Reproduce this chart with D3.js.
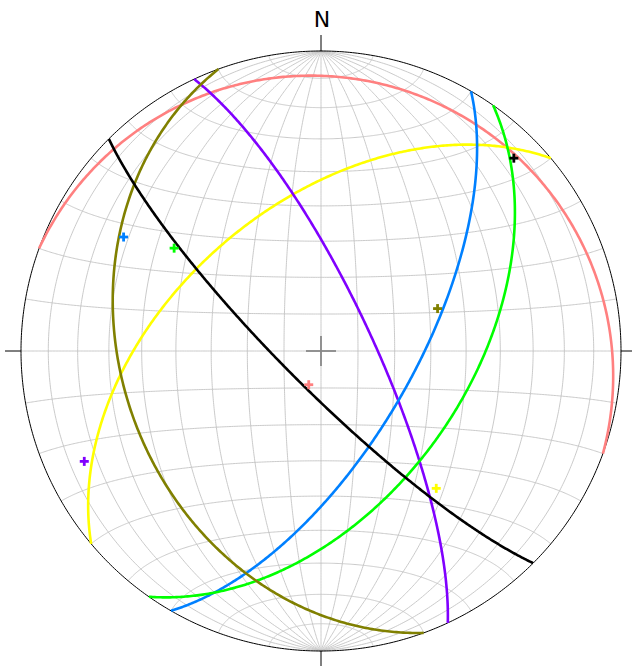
<!DOCTYPE html>
<html>
<head>
<meta charset="utf-8">
<script src="https://cdn.jsdelivr.net/npm/d3@7"></script>
<style>
  html, body { margin: 0; padding: 0; background: #fff; }
  svg { display: block; }
</style>
</head>
<body>
<svg id="chart" width="632" height="666"></svg>
<script>
// ---- data (right-hand-rule strike / dip of each plane) ----
const planeColors = ["#ff8080", "#ffff00", "#8000ff", "#0080ff", "#00ff00", "#808000", "#000000"];
const strikes = [290, 230, 335, 30, 35, 160, 135];
const dips    = [9.7, 50,  76,  65, 50, 34,  80];
// grid (degrees) and tick labels
const gridLons = [-80, -70, -60, -50, -40, -30, -20, -10, 0, 10, 20, 30, 40, 50, 60, 70, 80];
const gridLats = [-80, -70, -60, -50, -40, -30, -20, -10, 0, 10, 20, 30, 40, 50, 60, 70, 80];
const tickAzimuths = [0, 90, 180, 270];
const tickLabels = ["N", "", "", ""];

// ---- layout ----
const W = 632, H = 666;
const cx = 321, cy = 351, R = 300;
const svg = d3.select("#chart");
svg.append("rect").attr("width", W).attr("height", H).attr("fill", "#fff");

const proj = d3.geoAzimuthalEqualArea()
  .rotate([0, 0])
  .scale(R / Math.SQRT2)
  .translate([cx, cy]);

const rad = Math.PI / 180, deg = 180 / Math.PI;
const line = d3.line().curve(d3.curveLinear);

// vector (E, N, Down) -> [lon, lat]
function toLonLat(E, N, D) {
  const n = Math.sqrt(E * E + N * N + D * D);
  E /= n; N /= n; D /= n;
  return [Math.atan2(E, D) * deg, Math.asin(Math.max(-1, Math.min(1, N))) * deg];
}

// ---- grid ----
const gridG = svg.append("g").attr("fill", "none").attr("stroke", "#c4c4c4").attr("stroke-width", 0.9);
gridLons.forEach(lon => {
  const pts = d3.range(-90, 90.01, 0.5).map(lat => proj([lon, lat]));
  gridG.append("path").attr("d", line(pts));
});
gridLats.forEach(lat => {
  const pts = d3.range(-90, 90.01, 0.5).map(lon => proj([lon, lat]));
  gridG.append("path").attr("d", line(pts));
});

// ---- center cross ----
const c0 = proj([0, 0]);
svg.append("line").attr("x1", c0[0] - 15).attr("x2", c0[0] + 15).attr("y1", c0[1]).attr("y2", c0[1])
  .attr("stroke", "#888").attr("stroke-width", 1.8);
svg.append("line").attr("x1", c0[0]).attr("x2", c0[0]).attr("y1", c0[1] - 15).attr("y2", c0[1] + 15)
  .attr("stroke", "#888").attr("stroke-width", 1.8);

// ---- primitive circle ----
const prim = d3.range(0, 360.01, 0.5).map(a => {
  const ll = toLonLat(Math.sin(a * rad), Math.cos(a * rad), 0);
  return proj(ll);
});
svg.append("path").attr("d", line(prim) + "Z").attr("fill", "none").attr("stroke", "#000").attr("stroke-width", 1);

// ---- ticks + label ----
tickAzimuths.forEach((az, i) => {
  const ux = Math.sin(az * rad), uy = -Math.cos(az * rad);
  svg.append("line")
    .attr("x1", cx + ux * R).attr("y1", cy + uy * R)
    .attr("x2", cx + ux * (R + 16)).attr("y2", cy + uy * (R + 16))
    .attr("stroke", "#000").attr("stroke-width", 1);
  if (tickLabels[i]) {
    svg.append("text")
      .attr("x", cx + ux * (R + 25) + 1).attr("y", cy + uy * (R + 25) + 1)
      .attr("text-anchor", "middle")
      .attr("font-family", "DejaVu Sans, sans-serif")
      .attr("font-size", 22)
      .attr("fill", "#000")
      .text(tickLabels[i]);
  }
});

// ---- planes (great circles) ----
const planeG = svg.append("g").attr("fill", "none").attr("stroke-width", 2.6).attr("stroke-linecap", "butt");
strikes.forEach((s, i) => {
  const d = dips[i], dd = s + 90;
  const sv = [Math.sin(s * rad), Math.cos(s * rad), 0];
  const dv = [Math.cos(d * rad) * Math.sin(dd * rad), Math.cos(d * rad) * Math.cos(dd * rad), Math.sin(d * rad)];
  const pts = d3.range(0, 180.01, 0.5).map(a => {
    const ca = Math.cos(a * rad), sa = Math.sin(a * rad);
    return proj(toLonLat(ca * sv[0] + sa * dv[0], ca * sv[1] + sa * dv[1], ca * sv[2] + sa * dv[2]));
  });
  planeG.append("path").attr("d", line(pts)).attr("stroke", planeColors[i]);
});

// ---- poles ----
const poleG = svg.append("g").attr("stroke-width", 2.8);
strikes.forEach((s, i) => {
  const d = dips[i];
  const tr = s + 90 + 180, pl = 90 - d;
  const p = proj(toLonLat(Math.cos(pl * rad) * Math.sin(tr * rad), Math.cos(pl * rad) * Math.cos(tr * rad), Math.sin(pl * rad)));
  const h = 4.5;
  poleG.append("line").attr("x1", p[0] - h).attr("x2", p[0] + h).attr("y1", p[1]).attr("y2", p[1]).attr("stroke", planeColors[i]);
  poleG.append("line").attr("x1", p[0]).attr("x2", p[0]).attr("y1", p[1] - h).attr("y2", p[1] + h).attr("stroke", planeColors[i]);
});
</script>
</body>
</html>
